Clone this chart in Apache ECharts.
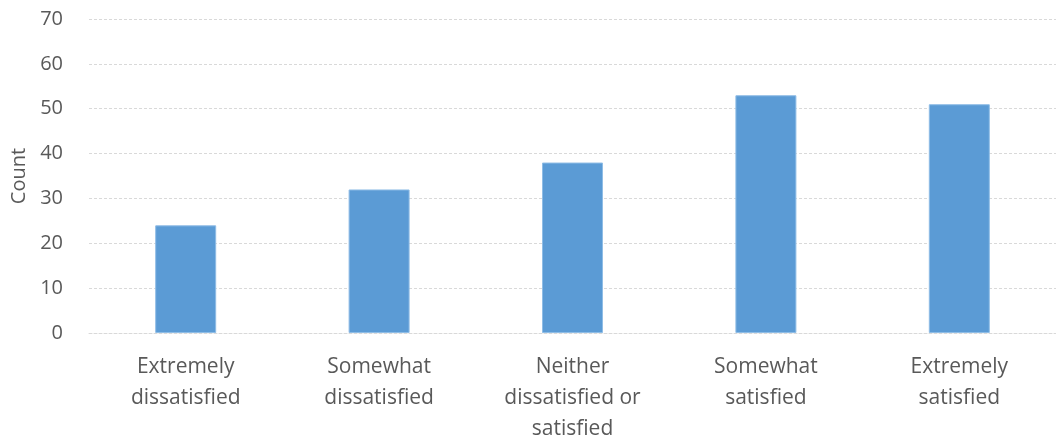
<!DOCTYPE html>
<html>
<head>
<meta charset="utf-8">
<script src="https://cdn.jsdelivr.net/npm/echarts@6/dist/echarts.min.js"></script>
<style>
  html, body { margin: 0; padding: 0; background: #ffffff; overflow: hidden; }
  #chart { width: 1056px; height: 445px; }
</style>
</head>
<body>
<div id="chart"></div>
<script>
// Satisfaction survey responses
const categories = [
  'Extremely\ndissatisfied',
  'Somewhat\ndissatisfied',
  'Neither\ndissatisfied or\nsatisfied',
  'Somewhat\nsatisfied',
  'Extremely\nsatisfied'
];
const counts = [24, 32, 38, 53, 51];
const yAxisName = 'Count';

const textColor = '#595959';
const fontFamily = '"Open Sans", "Liberation Sans", sans-serif';
const gridColor = '#d9d9d9';

const chart = echarts.init(document.getElementById('chart'));
chart.setOption({
  animation: false,
  grid: { left: 89, top: 19, width: 977, height: 317, containLabel: false },
  xAxis: {
    type: 'category',
    data: categories,
    axisLine: { show: true, lineStyle: { color: gridColor, type: [3, 2], width: 1 } },
    axisTick: { show: false },
    axisLabel: {
      color: textColor,
      fontFamily: fontFamily,
      fontSize: 21,
      lineHeight: 31,
      margin: 19,
      interval: 0
    }
  },
  yAxis: {
    type: 'value',
    min: 0,
    max: 70,
    interval: 10,
    name: yAxisName,
    nameLocation: 'middle',
    nameRotate: 90,
    nameGap: 60,
    nameTextStyle: { color: textColor, fontFamily: fontFamily, fontSize: 20 },
    axisLine: { show: false },
    axisTick: { show: false },
    axisLabel: { color: textColor, fontFamily: fontFamily, fontSize: 20, margin: 26 },
    splitLine: { lineStyle: { color: gridColor, type: [3, 2], width: 1 } }
  },
  series: [{
    type: 'bar',
    data: counts,
    barWidth: 61,
    itemStyle: { color: '#5b9bd5', borderColor: '#8fbde6', borderWidth: 1 }
  }]
});
</script>
</body>
</html>
